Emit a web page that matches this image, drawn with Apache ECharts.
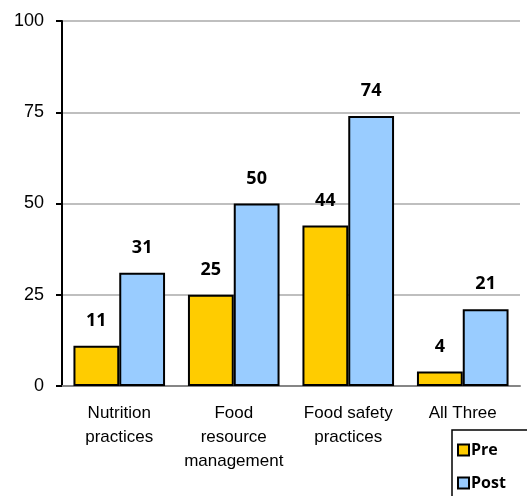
<!DOCTYPE html>
<html>
<head>
<meta charset="utf-8">
<script src="https://cdn.jsdelivr.net/npm/echarts@6/dist/echarts.min.js"></script>
<style>
  html, body { margin: 0; padding: 0; background: #ffffff; }
  #chart { width: 527px; height: 496px; }
</style>
</head>
<body>
<div id="chart"></div>
<script>
// data
var categories = ['Nutrition\npractices', 'Food\nresource\nmanagement', 'Food safety\npractices', 'All Three'];
var preValues = [11, 25, 44, 4];
var postValues = [31, 50, 74, 21];
var yTicks = [0, 25, 50, 75, 100];

var chart = echarts.init(document.getElementById('chart'));

var labelStyle = {
  show: true,
  position: 'top',
  distance: 16,
  fontFamily: 'Open Sans, Liberation Sans, sans-serif',
  fontWeight: 'bold',
  fontSize: 18,
  color: '#000000'
};

chart.setOption({
  animation: false,
  backgroundColor: '#ffffff',
  grid: {
    left: 62,
    right: 7,
    top: 21,
    bottom: 110,
    containLabel: false
  },
  legend: {
    orient: 'vertical',
    left: 452,
    top: 430,
    width: 90,
    height: 90,
    padding: [12, 30, 8, 5],
    itemGap: 17,
    itemWidth: 11,
    itemHeight: 11,
    borderColor: '#000000',
    borderWidth: 1.5,
    icon: 'rect',
    textStyle: {
      fontFamily: 'Open Sans, Liberation Sans, sans-serif',
      fontWeight: 'bold',
      fontSize: 16,
      color: '#000000',
      padding: [0, 0, 0, -3]
    },
    data: ['Pre', 'Post']
  },
  xAxis: {
    type: 'category',
    data: categories,
    axisLine: { lineStyle: { color: '#868686', width: 2 } },
    axisTick: { show: false },
    axisLabel: {
      color: '#000000',
      fontFamily: 'Liberation Sans, Arial, sans-serif',
      fontSize: 17,
      lineHeight: 24,
      margin: 15,
      interval: 0
    }
  },
  yAxis: {
    type: 'value',
    min: yTicks[0],
    max: yTicks[yTicks.length - 1],
    interval: 25,
    axisLine: { show: true, lineStyle: { color: '#000000', width: 2 } },
    axisTick: { show: true, length: 6, lineStyle: { color: '#000000', width: 2 } },
    axisLabel: {
      color: '#000000',
      fontFamily: 'Liberation Sans, Arial, sans-serif',
      fontSize: 18,
      margin: 18
    },
    splitLine: { lineStyle: { color: '#bfbfbf', width: 2 } }
  },
  series: [
    {
      name: 'Pre',
      type: 'bar',
      data: preValues,
      barGap: '0%',
      barCategoryGap: '20%',
      itemStyle: { color: '#ffcc00', borderColor: '#000000', borderWidth: 2 },
      label: labelStyle
    },
    {
      name: 'Post',
      type: 'bar',
      data: postValues,
      itemStyle: { color: '#99ccff', borderColor: '#000000', borderWidth: 2 },
      label: labelStyle
    }
  ]
});
</script>
</body>
</html>
